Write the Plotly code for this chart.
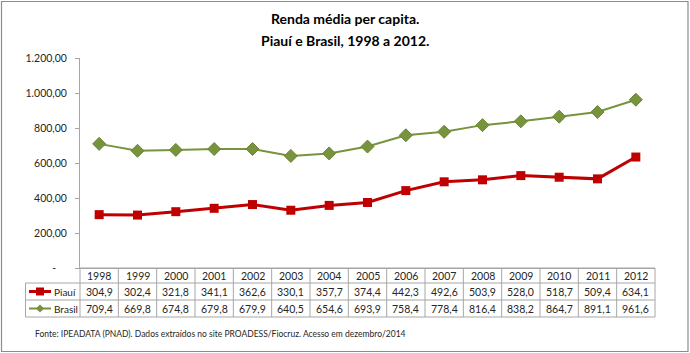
import plotly.graph_objects as go

years = ["1998", "1999", "2000", "2001", "2002", "2003", "2004", "2005",
         "2006", "2007", "2008", "2009", "2010", "2011", "2012"]
piaui = [304.9, 302.4, 321.8, 341.1, 362.6, 330.1, 357.7, 374.4,
         442.3, 492.6, 503.9, 528.0, 518.7, 509.4, 634.1]
brasil = [709.4, 669.8, 674.8, 679.8, 679.9, 640.5, 654.6, 693.9,
          758.4, 778.4, 816.4, 838.2, 864.7, 891.1, 961.6]
series_names = ["Piauí", "Brasil"]
y_ticks = [0, 200, 400, 600, 800, 1000, 1200]
title_lines = ["Renda média per capita.", "Piauí e Brasil, 1998 a 2012."]
source = "Fonte: IPEADATA (PNAD). Dados extraídos no site PROADESS/Fiocruz. Acesso em dezembro/2014"

W, H = 690, 353
L, R, T, B = 80, 655, 58, 268   # plot area in pixels
FONT = "Lato"
RED = "#C00000"
GREEN = "#77933C"
GRID = "#A6A6A6"
TXT = "#262626"


def px(x):
    return (x - L) / (R - L)


def py(y):
    return (B - y) / (B - T)


def fmt(v):
    if v == 0:
        return "-\u00a0\u00a0\u00a0\u00a0"
    s = f"{v:,.2f}"
    return s.replace(",", "X").replace(".", ",").replace("X", ".")


def fmt1(v):
    return f"{v:.1f}".replace(".", ",")


fig = go.Figure()
fig.add_trace(go.Scatter(
    x=list(range(len(years))), y=piaui, mode="lines+markers", name=series_names[0],
    line=dict(color=RED, width=3),
    marker=dict(symbol="square", size=9, color=RED), cliponaxis=False))
fig.add_trace(go.Scatter(
    x=list(range(len(years))), y=brasil, mode="lines+markers", name=series_names[1],
    line=dict(color=GREEN, width=2),
    marker=dict(symbol="diamond", size=10, color=GREEN,
                line=dict(color="#6B8535", width=1)), cliponaxis=False))

shapes = []
annotations = []
n = len(years)
rows_y = [268, 283, 300, 317]   # row boundaries in px
col_w = 1.0 / n

# outer chart border
shapes.append(dict(type="rect", xref="paper", yref="paper",
                   x0=px(1.5), x1=px(688), y0=py(1.5), y1=py(351.5),
                   line=dict(color="#8C8C8C", width=1.2)))

# table horizontal lines
for i, yy in enumerate(rows_y):
    x0 = px(25.5) if i >= 1 else 0
    shapes.append(dict(type="line", xref="paper", yref="paper",
                       x0=x0, x1=1, y0=py(yy), y1=py(yy),
                       line=dict(color=GRID, width=1)))
# table vertical lines
for k in range(n + 1):
    shapes.append(dict(type="line", xref="paper", yref="paper",
                       x0=k * col_w, x1=k * col_w, y0=py(rows_y[0]), y1=py(rows_y[-1]),
                       line=dict(color=GRID, width=1)))
shapes.append(dict(type="line", xref="paper", yref="paper",
                   x0=px(25.5), x1=px(25.5), y0=py(rows_y[1]), y1=py(rows_y[-1]),
                   line=dict(color=GRID, width=1)))

# table text
for i, yr in enumerate(years):
    for r, txt in enumerate([yr, fmt1(piaui[i]), fmt1(brasil[i])]):
        annotations.append(dict(
            x=i, xref="x", y=py((rows_y[r] + rows_y[r + 1]) / 2), yref="paper",
            text=txt, showarrow=False, xanchor="center", yanchor="middle",
            font=dict(family=FONT, size=10.5, color=TXT)))

# legend keys in table
keys = [(series_names[0], RED, "square", 3), (series_names[1], GREEN, "diamond", 2)]
for r, (name, col, sym, lw) in enumerate(keys):
    ymid = (rows_y[r + 1] + rows_y[r + 2]) / 2
    shapes.append(dict(type="line", xref="paper", yref="paper",
                       x0=px(29), x1=px(51), y0=py(ymid), y1=py(ymid),
                       line=dict(color=col, width=lw)))
    cx = 40
    if sym == "square":
        shapes.append(dict(type="rect", xref="paper", yref="paper",
                           x0=px(cx - 4), x1=px(cx + 4), y0=py(ymid - 4), y1=py(ymid + 4),
                           fillcolor=col, line=dict(color=col, width=0)))
    else:
        d = 4
        path = (f"M {px(cx - d)} {py(ymid)} L {px(cx)} {py(ymid - d)} "
                f"L {px(cx + d)} {py(ymid)} L {px(cx)} {py(ymid + d)} Z")
        shapes.append(dict(type="path", xref="paper", yref="paper", path=path,
                           fillcolor=col, line=dict(color=col, width=0)))
    annotations.append(dict(
        x=px(52), xref="paper", y=py(ymid), yref="paper", text=name,
        showarrow=False, xanchor="left", yanchor="middle",
        font=dict(family=FONT, size=10, color=TXT)))

# title
for j, line in enumerate(title_lines):
    annotations.append(dict(
        x=px(345), xref="paper", y=py(18 + 22 * j), yref="paper", text=f"<b>{line}</b>",
        showarrow=False, xanchor="center", yanchor="middle",
        font=dict(family=FONT, size=14, color="#000000")))

# source
annotations.append(dict(
    x=px(33), xref="paper", y=py(334), yref="paper", text=source,
    showarrow=False, xanchor="left", yanchor="middle",
    font=dict(family=FONT, size=8.5, color=TXT)))

fig.update_layout(
    width=W, height=H,
    margin=dict(l=L, r=W - R, t=T, b=H - B, pad=0),
    paper_bgcolor="white", plot_bgcolor="white",
    showlegend=False,
    xaxis=dict(range=[-0.5, n - 0.5], showticklabels=False, showgrid=False,
               zeroline=False, showline=True, linecolor=GRID, linewidth=1,
               ticks="", fixedrange=True),
    yaxis=dict(range=[0, 1200], tickvals=y_ticks, ticktext=[fmt(v) for v in y_ticks],
               showgrid=False, zeroline=False, showline=True, linecolor=GRID,
               linewidth=1, ticks="outside", ticklen=4, tickcolor=GRID,
               tickfont=dict(family=FONT, size=10.5, color=TXT), ticklabelstandoff=6,
               fixedrange=True),
    shapes=shapes, annotations=annotations,
)

fig.write_html("out.html")
